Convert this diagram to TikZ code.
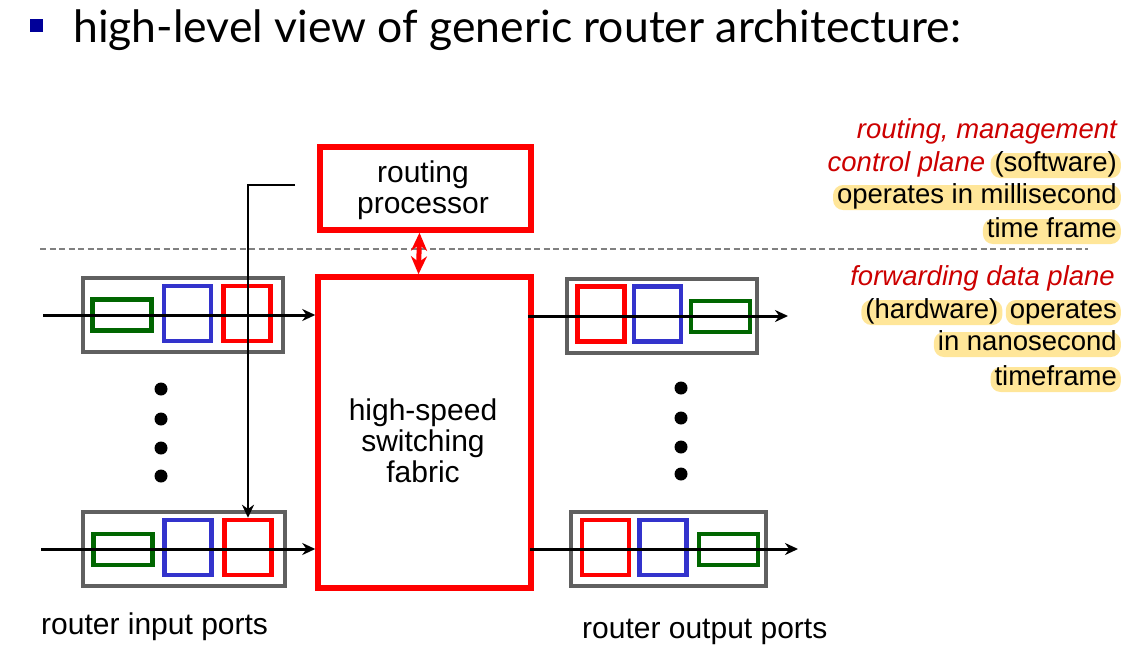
\documentclass[tikz,border=0pt]{standalone}
\usepackage{fontspec}
\setmainfont{Liberation Sans}
\newfontfamily\titlefont{Lato}
\usetikzlibrary{arrows.meta,positioning,calc}

\definecolor{portgray}{HTML}{606060}
\definecolor{qred}{HTML}{FF0000}
\definecolor{qblue}{HTML}{3333CC}
\definecolor{qgreen}{HTML}{006600}
\definecolor{bulletblue}{HTML}{000099}
\definecolor{planered}{HTML}{CC0000}
\definecolor{hlyellow}{HTML}{FFE699}

\begin{document}
\begin{tikzpicture}[x=1pt, y=-1pt, >={Stealth[length=13pt,width=12pt]}, font=\fontsize{30}{31}\selectfont]
\tikzstyle{port}=[draw=portgray, line width=3.5pt, minimum height=74pt, inner sep=0pt]
\tikzstyle{pkt}=[line width=4.5pt, inner sep=0pt, minimum width=47pt, minimum height=55pt]
\tikzstyle{hdr}=[draw=qgreen, line width=4.5pt, inner sep=0pt, minimum width=59pt, minimum height=31pt]
\tikzstyle{unit}=[draw=qred, line width=5.5pt, inner sep=0pt]
\tikzstyle{flow}=[->, line width=3pt]
\tikzstyle{plane}=[text=planered, font=\fontsize{27.5}{33}\selectfont\itshape, inner sep=0pt, anchor=base east]
\tikzstyle{hl}=[fill=hlyellow, rounded corners=10pt, inner xsep=4pt, inner ysep=2pt, text height=16pt, text depth=5pt, anchor=base east, font=\fontsize{27.5}{33}\selectfont]
\useasboundingbox (0,0) rectangle (1140,669);

% title
\node[fill=bulletblue, minimum size=13pt, inner sep=0pt] (bullet) at (36.5,26) {};
\node[anchor=base west, inner sep=0pt, font=\titlefont\fontsize{44.5}{44.5}\selectfont] (title) at (73,43) {high-level view of generic router architecture:};

% control / data plane border
\coordinate (dashL) at (40,249);
\coordinate (dashR) at (1088,249);
\draw[portgray!80, dash pattern=on 6pt off 3.5pt, line width=1.3pt] (dashL) -- (dashR);

% routing processor and switching fabric
\node[unit, minimum width=211pt, minimum height=83pt] (proc) at (425.5,188.5) {};
\node[align=center] (proctext) at (423,190.5) {routing\\processor};
\node[unit, minimum width=213pt, minimum height=311pt] (fabric) at (424.5,432.5) {};
\node[align=center] (fabrictext) at (423,440.5) {high-speed\\switching\\fabric};
\draw[qred, line width=5pt, {Stealth[length=18pt,width=16pt]}-{Stealth[length=18pt,width=16pt]}] ([xshift=-6pt]proc.south) -- ([xshift=-6pt]fabric.north);

% input ports
\node[port, minimum width=200pt] (in1) at (183,315) {};
\node[hdr] (in1g) at (122,315) {};
\node[pkt, draw=qblue] (in1b) at (187.5,313.5) {};
\node[pkt, draw=qred] (in1r) at (247,313.5) {};
\node[port, minimum width=202pt] (in2) at (184,549) {};
\node[hdr] (in2g) at (123,549.5) {};
\node[pkt, draw=qblue] (in2b) at (188,547.5) {};
\node[pkt, draw=qred] (in2r) at (248,547.5) {};

% output ports
\node[port, minimum width=190pt] (out1) at (662,316) {};
\node[pkt, draw=qred] (out1r) at (601,314) {};
\node[pkt, draw=qblue] (out1b) at (657.5,314) {};
\node[hdr] (out1g) at (720.5,316.5) {};
\node[port, minimum width=195pt] (out2) at (668.5,549) {};
\node[pkt, draw=qred] (out2r) at (605.5,547.5) {};
\node[pkt, draw=qblue] (out2b) at (663,547.5) {};
\node[hdr] (out2g) at (728.5,549.5) {};

% packet flow
\coordinate (in1s) at (43,315);
\coordinate (in2s) at (41,549);
\coordinate (out1e) at (788,316);
\coordinate (out2e) at (798,549);
\draw[flow] (in1s) -- (in1s -| fabric.west);
\draw[flow] (in2s) -- (in2s -| fabric.west);
\draw[flow] ([xshift=-6pt]out1e -| fabric.east) -- (out1e);
\draw[flow] ([xshift=-4pt]out2e -| fabric.east) -- (out2e);

% forwarding table down to the input port
\coordinate (rpfeed) at (295,185);
\draw[flow, line width=2.5pt] (rpfeed) -| (in2r.north);

% more ports
\foreach \y in {389,419,448,476} \fill (161,\y) circle (6.5pt);
\foreach \y in {388,418,447,474} \fill (681,\y) circle (6.5pt);

\node[anchor=base west, inner sep=0pt] (inlabel) at (41,634) {router input ports};
\node[anchor=base west, inner sep=0pt] (outlabel) at (582,638) {router output ports};

% plane notes
\node[plane] (ctrl1) at (1117,138) {routing, management};
\node[hl] (ctrl2b) at (1121,171) {(software)};
\node[plane] (ctrl2a) at ([xshift=-5pt]ctrl2b.base west) {control plane};
\node[hl] (ctrl3) at (1121,203) {operates in millisecond};
\node[hl] (ctrl4) at (1121,237) {time frame};
\node[plane] (data1) at (1115,285) {forwarding data plane};
\node[hl] (data2b) at (1121,318) {operates};
\node[hl] (data2a) at ([xshift=-3pt]data2b.base west) {(hardware)};
\node[hl] (data3) at (1121,350) {in nanosecond};
\node[hl] (data4) at (1121,385) {timeframe};
\end{tikzpicture}
\end{document}
